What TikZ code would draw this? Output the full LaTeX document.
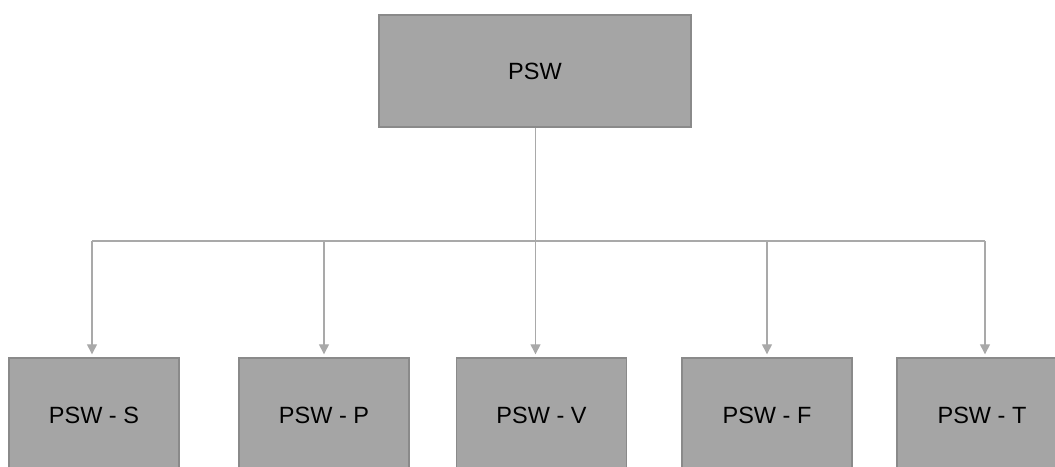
\documentclass[tikz,border=0pt]{standalone}
\usepackage{fontspec}
\setmainfont{Liberation Sans}
\usetikzlibrary{arrows.meta,positioning}
\definecolor{boxgray}{HTML}{A5A5A5}
\definecolor{boxedge}{HTML}{8A8A8A}
\definecolor{linkgray}{HTML}{A9A9A9}

\begin{document}
\begin{tikzpicture}[x=1pt,y=-1pt,
    box/.style={draw=boxedge,fill=boxgray,line width=1.4pt,inner sep=0pt,
        minimum width=170pt,minimum height=114pt,font=\fontsize{23.5}{27}\selectfont},
    link/.style={draw=linkgray,line width=1.3pt},
    arr/.style={link,-{Triangle[width=10pt,length=10pt]},shorten >=3pt}]
    \useasboundingbox (0,0) rectangle (1055,466);
    \node[box,minimum width=312pt,minimum height=112pt] (psw) at (535,71) {PSW};
    \node[box] (s) at (94,415) {PSW - S};
    \node[box] (p) at (324,415) {PSW - P};
    \node[box] (v) at (541.5,415) {PSW - V};
    \node[box] (f) at (767,415) {PSW - F};
    \node[box] (t) at (982,415) {PSW - T};
    % bus
    \coordinate (busS) at (92,241);
    \coordinate (busP) at (324,241);
    \coordinate (busV) at (535.5,241);
    \coordinate (busF) at (767,241);
    \coordinate (busT) at (985,241);
    \draw[link] (psw.south -| busV) -- (busV);
    \draw[link] (busS) -- (busT);
    \draw[arr] (busS) -- (busS |- s.north);
    \draw[arr] (busP) -- (busP |- p.north);
    \draw[arr] (busV) -- (busV |- v.north);
    \draw[arr] (busF) -- (busF |- f.north);
    \draw[arr] (busT) -- (busT |- t.north);
\end{tikzpicture}
\end{document}
